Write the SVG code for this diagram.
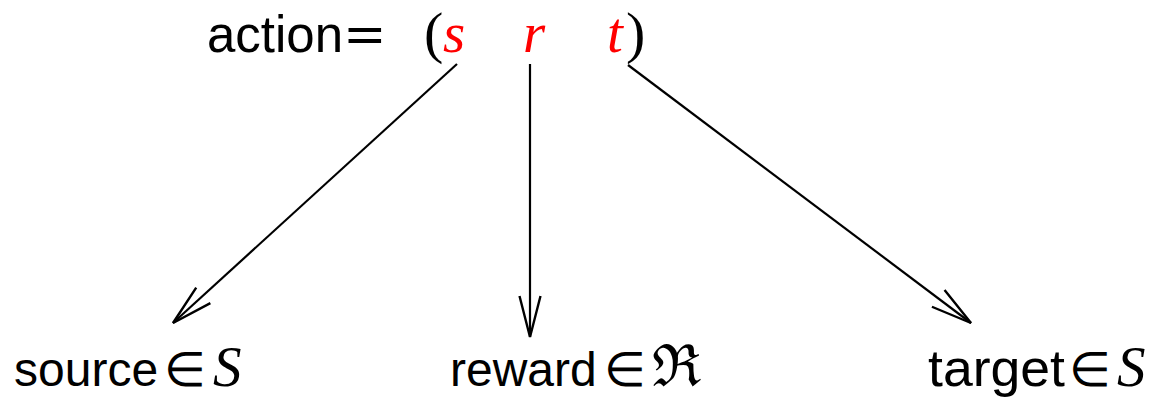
<svg xmlns="http://www.w3.org/2000/svg" width="1158" height="403" viewBox="0 0 1158 403">
<style>
.t{font-family:"Liberation Sans","DejaVu Sans",sans-serif;font-size:52px;fill:#000}
.s{font-size:48px}
.m{font-family:"Liberation Serif","DejaVu Serif",serif;font-size:57px;font-style:italic}
.r{fill:#ff0000}
.p{font-family:"Liberation Serif","DejaVu Serif",serif;font-size:58px;font-style:normal}
.e{font-family:"DejaVu Sans",sans-serif;font-weight:200;font-size:48px;font-style:normal}
.q{font-family:"DejaVu Serif",serif;font-size:52px}
.c{stroke:#000;stroke-width:2.2;fill:none}
</style>
<defs>
<marker id="ah" markerUnits="userSpaceOnUse" markerWidth="60" markerHeight="40" refX="0" refY="0" viewBox="-50 -20 60 40" orient="auto" overflow="visible">
<path d="M -41 -10.5 L 0 0 L -41 10.5" stroke="#000" stroke-width="2.4" fill="none"/>
</marker>
</defs>
<g id="action">
<text class="t" x="207" y="52" textLength="136" lengthAdjust="spacingAndGlyphs">action</text>
<text class="q" x="343" y="52">=</text>
<text class="p" x="424" y="52">(</text>
<text class="m r" x="443" y="52">s</text>
<text class="m r" x="523" y="52">r</text>
<text class="m r" x="607" y="52">t</text>
<text class="p" x="626" y="52">)</text>
</g>
<g id="connectors">
<line class="c" x1="457" y1="64" x2="173" y2="323" marker-end="url(#ah)"/>
<line class="c" x1="530" y1="64" x2="530" y2="337" marker-end="url(#ah)"/>
<line class="c" x1="628" y1="65" x2="971" y2="323" marker-end="url(#ah)"/>
</g>
<g id="source">
<text class="t s" x="14" y="386">source</text>
<text class="e" x="164" y="386">∈</text>
<text class="m" x="213" y="386">S</text>
</g>
<g id="reward">
<text class="t s" x="450" y="386">reward</text>
<text class="e" x="604" y="386">∈</text>
<text class="p" x="652" y="386">ℜ</text>
</g>
<g id="target">
<text class="t" x="928" y="386" textLength="137" lengthAdjust="spacingAndGlyphs">target</text>
<text class="e" x="1069" y="386">∈</text>
<text class="m" x="1117" y="386">S</text>
</g>
</svg>
